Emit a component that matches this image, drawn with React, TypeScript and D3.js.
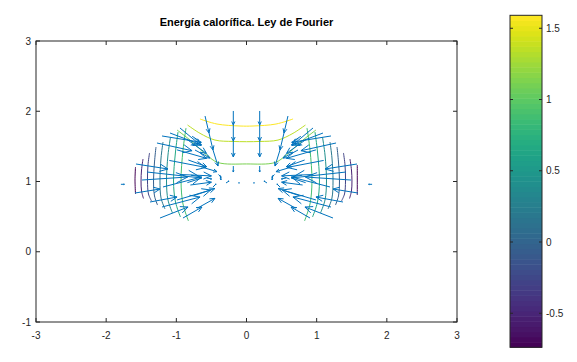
import React from "react";
import * as d3 from "d3";

// ---------- data ----------
const title = "Energía calorífica. Ley de Fourier";
const xTicks = [-3, -2, -1, 0, 1, 2, 3];
const yTicks = [-1, 0, 1, 2, 3];
const cbTicks = [-0.5, 0, 0.5, 1, 1.5];
const cRange = [-0.739, 1.591];

// contour levels and their polylines [x, y]
const contourLevels = [
  1.59, 1.357, 1.124,
  -0.74, -0.507, -0.274, -0.041, 0.192, 0.425, 0.658, 0.891,
  -0.74, -0.507, -0.274, -0.041, 0.192, 0.425, 0.658, 0.891,
];
const contourLines: number[][][] = [
  [[-0.663, 1.89], [-0.42, 1.818], [-0.093, 1.79], [0.093, 1.79], [0.42, 1.818], [0.663, 1.89]],
  [[-0.84, 1.804], [-0.663, 1.686], [-0.449, 1.59], [-0.19, 1.57], [0.19, 1.57], [0.449, 1.59], [0.663, 1.686], [0.84, 1.804]],
  [[-0.99, 1.733], [-0.805, 1.59], [-0.567, 1.377], [-0.406, 1.27], [0, 1.25], [0.406, 1.27], [0.567, 1.377], [0.805, 1.59], [0.99, 1.733]],
  // left wing
  [[-1.582, 1.206], [-1.589, 1.021], [-1.582, 0.822]],
  [[-1.475, 1.32], [-1.496, 1.164], [-1.503, 1.007], [-1.496, 0.865], [-1.468, 0.758]],
  [[-1.382, 1.406], [-1.404, 1.235], [-1.411, 1.007], [-1.397, 0.822], [-1.354, 0.723]],
  [[-1.29, 1.491], [-1.311, 1.278], [-1.325, 1.007], [-1.311, 0.794], [-1.268, 0.665]],
  [[-1.19, 1.562], [-1.218, 1.335], [-1.233, 1.007], [-1.218, 0.765], [-1.162, 0.609]],
  [[-1.083, 1.633], [-1.119, 1.377], [-1.14, 1.007], [-1.119, 0.737], [-1.055, 0.552]],
  [[-0.976, 1.705], [-1.012, 1.42], [-1.04, 1.007], [-1.012, 0.708], [-0.941, 0.495]],
  [[-0.862, 1.762], [-0.905, 1.448], [-0.933, 1.007], [-0.905, 0.68], [-0.827, 0.438]],
  // right wing
  [[1.579, 1.235], [1.579, 1.021], [1.579, 0.808]],
  [[1.475, 1.32], [1.496, 1.164], [1.503, 1.007], [1.496, 0.865], [1.468, 0.758]],
  [[1.382, 1.406], [1.404, 1.235], [1.411, 1.007], [1.397, 0.822], [1.354, 0.723]],
  [[1.29, 1.491], [1.311, 1.278], [1.325, 1.007], [1.311, 0.794], [1.268, 0.665]],
  [[1.19, 1.562], [1.218, 1.335], [1.233, 1.007], [1.218, 0.765], [1.162, 0.609]],
  [[1.083, 1.633], [1.119, 1.377], [1.14, 1.007], [1.119, 0.737], [1.055, 0.552]],
  [[0.976, 1.705], [1.012, 1.42], [1.04, 1.007], [1.012, 0.708], [0.941, 0.495]],
  [[0.862, 1.762], [0.905, 1.448], [0.933, 1.007], [0.905, 0.68], [0.827, 0.438]],
];

// quiver arrows [x, y, u, v]
const arrowsLeft: number[][] = [
  [-1.79, 0.96, 0.05, 0.0],
  [-1.575, 1.249, 0.456, -0.071],
  [-1.276, 1.548, 0.5, -0.11],
  [-1.489, 1.021, 0.65, 0.043],
  [-1.589, 0.836, 0.356, 0.057],
  [-1.375, 0.708, 0.385, 0.071],
  [-1.233, 0.48, 0.4, 0.157],
  [-1.204, 1.648, 0.56, -0.09],
  [-1.09, 1.69, 0.45, -0.17],
  [-0.948, 1.762, 0.3, -0.25],
  [-1.418, 1.135, 0.78, -0.085],
  [-1.19, 0.922, 0.55, 0.142],
  [-0.99, 0.737, 0.48, 0.142],
  [-0.905, 0.48, 0.271, 0.157],
  [-1.204, 0.637, 0.542, 0.142],
  [-0.829, 1.306, 0.262, -0.095],
  [-0.734, 1.448, 0.214, -0.114],
  [-0.85, 1.6, 0.28, -0.2],
  [-0.99, 1.45, 0.42, -0.12],
  [-1.1, 1.3, 0.52, -0.1],
  [-0.95, 1.1, 0.45, -0.02],
  [-0.8, 0.95, 0.3, 0.04],
  [-0.75, 0.8, 0.3, 0.1],
  [-0.7, 0.62, 0.25, 0.14],
  [-0.62, 1.2, 0.2, -0.06],
  [-0.567, 1.05, 0.07, -0.014],
  [-0.477, 0.922, 0.043, 0.043],
  [-0.292, 0.979, 0.043, 0.028],
  [-0.4, 1.1, 0.04, -0.04],
  [-0.12, 0.98, 0.02, 0.0],
  [-0.591, 1.932, 0.057, -0.242],
  [-0.534, 1.69, 0.057, -0.242],
  [-0.477, 1.448, 0.071, -0.228],
  [-0.378, 1.093, 0.014, -0.07],
  [-0.188, 2.004, 0, -0.2],
  [-0.188, 1.804, 0, -0.228],
  [-0.188, 1.577, 0, -0.228],
  [-0.188, 1.22, 0, -0.085],
];
const arrowsRight: number[][] = [
  [1.79, 0.96, -0.05, 0.0],
  [1.575, 1.249, -0.456, -0.071],
  [1.276, 1.548, -0.5, -0.11],
  [1.489, 1.021, -0.65, 0.043],
  [1.589, 0.836, -0.356, 0.057],
  [1.375, 0.708, -0.385, 0.071],
  [1.233, 0.48, -0.4, 0.157],
  [1.204, 1.648, -0.56, -0.09],
  [1.09, 1.69, -0.45, -0.17],
  [0.948, 1.762, -0.3, -0.25],
  [1.418, 1.135, -0.78, -0.085],
  [1.19, 0.922, -0.55, 0.142],
  [0.99, 0.737, -0.48, 0.142],
  [0.905, 0.48, -0.271, 0.157],
  [1.204, 0.637, -0.542, 0.142],
  [0.829, 1.306, -0.262, -0.095],
  [0.734, 1.448, -0.214, -0.114],
  [0.85, 1.6, -0.28, -0.2],
  [0.99, 1.45, -0.42, -0.12],
  [1.1, 1.3, -0.52, -0.1],
  [0.95, 1.1, -0.45, -0.02],
  [0.8, 0.95, -0.3, 0.04],
  [0.75, 0.8, -0.3, 0.1],
  [0.7, 0.62, -0.25, 0.14],
  [0.62, 1.2, -0.2, -0.06],
  [0.567, 1.05, -0.07, -0.014],
  [0.477, 0.922, -0.043, 0.043],
  [0.292, 0.979, -0.043, 0.028],
  [0.4, 1.1, -0.04, -0.04],
  [0.12, 0.98, -0.02, 0.0],
  [0.591, 1.932, -0.057, -0.242],
  [0.534, 1.69, -0.057, -0.242],
  [0.477, 1.448, -0.071, -0.228],
  [0.378, 1.093, -0.014, -0.07],
  [0.188, 2.004, 0, -0.2],
  [0.188, 1.804, 0, -0.228],
  [0.188, 1.577, 0, -0.228],
  [0.188, 1.22, 0, -0.085],
];

// ---------- layout ----------
const W = 577, H = 362;
const plot = { left: 36, right: 457, top: 41, bottom: 322 };
const cb = { left: 510, right: 542, top: 15.3, bottom: 347.3 };
const axisColor = "#262626";
const arrowColor = "#0072bd";
const font = "'Liberation Sans', Arial, Helvetica, sans-serif";

export default function App() {
  const sx = d3.scaleLinear().domain([-3, 3]).range([plot.left, plot.right]);
  const sy = d3.scaleLinear().domain([-1, 3]).range([plot.bottom, plot.top]);
  const color = d3.scaleSequential(d3.interpolateViridis).domain(cRange as [number, number]);
  const cy = d3.scaleLinear().domain(cRange).range([cb.bottom, cb.top]);
  const line = d3.line<number[]>().x((p) => sx(p[0])).y((p) => sy(p[1])).curve(d3.curveCatmullRom);

  const arrowPath = (a: number[]) => {
    const x0 = sx(a[0]), y0 = sy(a[1]);
    const x1 = sx(a[0] + a[2]), y1 = sy(a[1] + a[3]);
    const dx = x1 - x0, dy = y1 - y0;
    const hs = 0.25;
    const bx = x1 - dx * hs, by = y1 - dy * hs;
    const px = -dy * hs * 0.45, py = dx * hs * 0.45;
    return `M${x0},${y0}L${x1},${y1}M${bx + px},${by + py}L${x1},${y1}L${bx - px},${by - py}`;
  };

  const nBands = 64;
  const bands = d3.range(nBands).map((i) => {
    const v0 = cRange[0] + ((cRange[1] - cRange[0]) * i) / nBands;
    const v1 = cRange[0] + ((cRange[1] - cRange[0]) * (i + 1)) / nBands;
    return { v0, v1, c: color((v0 + v1) / 2) };
  });

  return (
    <svg width={W} height={H} style={{ position: "absolute", left: 0, top: 0, background: "#fff" }}
      fontFamily={font}>
      <rect x={0} y={0} width={W} height={H} fill="#fff" />
      <text x={(plot.left + plot.right) / 2} y={26} textAnchor="middle" fontSize={11} fontWeight="bold" fill="#000">
        {title}
      </text>
      {/* contours */}
      <g fill="none" strokeWidth={1}>
        {contourLines.map((pts, i) => (
          <path key={i} d={line(pts) || ""} stroke={color(contourLevels[i])} />
        ))}
      </g>
      {/* quiver */}
      <g fill="none" stroke={arrowColor} strokeWidth={1}>
        {arrowsLeft.concat(arrowsRight).map((a, i) => (
          <path key={i} d={arrowPath(a)} />
        ))}
      </g>
      {/* axes box */}
      <rect x={plot.left} y={plot.top} width={plot.right - plot.left} height={plot.bottom - plot.top}
        fill="none" stroke={axisColor} strokeWidth={1} />
      <g stroke={axisColor} strokeWidth={1}>
        {xTicks.map((t) => (
          <g key={"xt" + t}>
            <line x1={sx(t)} x2={sx(t)} y1={plot.bottom} y2={plot.bottom - 4} />
            <line x1={sx(t)} x2={sx(t)} y1={plot.top} y2={plot.top + 4} />
          </g>
        ))}
        {yTicks.map((t) => (
          <g key={"yt" + t}>
            <line x1={plot.left} x2={plot.left + 4} y1={sy(t)} y2={sy(t)} />
            <line x1={plot.right} x2={plot.right - 4} y1={sy(t)} y2={sy(t)} />
          </g>
        ))}
      </g>
      <g fontSize={10} fill={axisColor}>
        {xTicks.map((t) => (
          <text key={"xl" + t} x={sx(t)} y={338.5} textAnchor="middle">{t}</text>
        ))}
        {yTicks.map((t) => (
          <text key={"yl" + t} x={31} y={sy(t)} dy="0.35em" textAnchor="end">{t}</text>
        ))}
      </g>
      {/* colorbar */}
      <g>
        {bands.map((b, i) => (
          <rect key={i} x={cb.left} width={cb.right - cb.left} y={cy(b.v1)} height={cy(b.v0) - cy(b.v1) + 0.5} fill={b.c} />
        ))}
        <rect x={cb.left} y={cb.top} width={cb.right - cb.left} height={cb.bottom - cb.top} fill="none" stroke={axisColor} strokeWidth={1} />
        <g stroke={axisColor} strokeWidth={1}>
          {cbTicks.map((t) => (
            <g key={"ct" + t}>
              <line x1={cb.right} x2={cb.right - 3} y1={cy(t)} y2={cy(t)} />
              <line x1={cb.left} x2={cb.left + 3} y1={cy(t)} y2={cy(t)} />
            </g>
          ))}
        </g>
        <g fontSize={10} fill={axisColor}>
          {cbTicks.map((t) => (
            <text key={"cl" + t} x={546} y={cy(t)} dy="0.35em">{t}</text>
          ))}
        </g>
      </g>
    </svg>
  );
}
